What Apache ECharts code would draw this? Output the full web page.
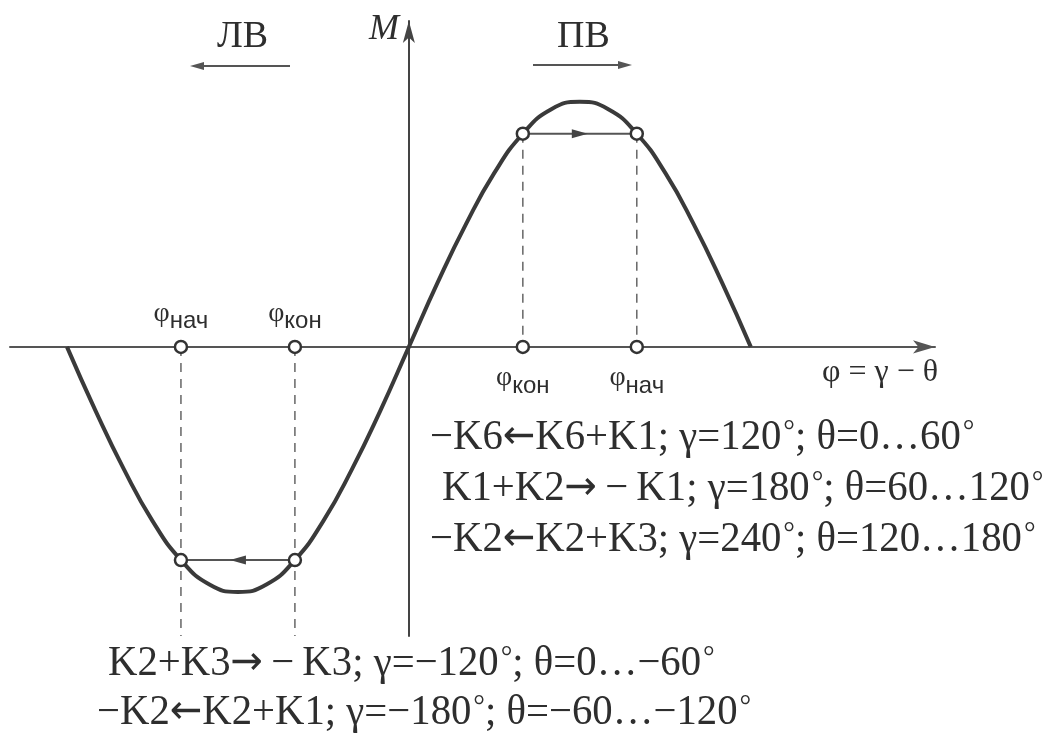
<!DOCTYPE html>
<html>
<head>
<meta charset="utf-8">
<script src="https://cdn.jsdelivr.net/npm/echarts@6/dist/echarts.min.js"></script>
<style>
  html, body { margin: 0; padding: 0; background: #fff; }
  #chart { width: 1049px; height: 735px; }
</style>
</head>
<body>
<div id="chart"></div>
<script>
// Load angle φ (degrees) and electromagnetic torque M (relative units)
const phiDeg = [-180, -165, -150, -135, -120, -105, -90, -75, -60, -45, -30, -15, 0,
                15, 30, 45, 60, 75, 90, 105, 120, 135, 150, 165, 180];
const torque = [0, -0.26, -0.5, -0.71, -0.87, -0.97, -1, -0.97, -0.87, -0.71, -0.5, -0.26, 0,
                0.26, 0.5, 0.71, 0.87, 0.97, 1, 0.97, 0.87, 0.71, 0.5, 0.26, 0];

// Commutation interval boundaries on the curve
const switchPhi = [-120, -60, 60, 120];
const switchM = [-0.87, -0.87, 0.87, 0.87];
const switchSub = ['нач', 'кон', 'кон', 'нач'];

// Working point travel along each interval (start → end)
const travelStart = [[-60, -0.87], [60, 0.87]];
const travelEnd = [[-120, -0.87], [120, 0.87]];

// Lower end of the guide lines under the negative half-wave
const guideBottom = -1.18;

// Axis extents
const phiMin = -210, phiMax = 277;
const mMin = -1.18, mMax = 1.33;

// Switching sequences (thin spaces around the stand-alone minus)
const rightNotes = [
  '−K6←K6+K1; γ=120°; θ=0…60°',
  'K1+K2→\u2009−\u2009K1; γ=180°; θ=60…120°',
  '−K2←K2+K3; γ=240°; θ=120…180°'
];
const bottomNotes = [
  'K2+K3→\u2009−\u2009K3; γ=−120°; θ=0…−60°',
  '−K2←K2+K1; γ=−180°; θ=−60…−120°'
];
const dirLabels = ['ЛВ', 'ПВ'];
const axisNameM = 'M';
const axisNamePhi = 'φ = γ − θ';

const INK = '#2e2e2e';
const SERIF = '"Liberation Serif", "DejaVu Serif", serif';
const SANS = '"Liberation Sans", "DejaVu Sans", sans-serif';

const curveData = phiDeg.map((p, i) => [p, torque[i]]);
const pointData = switchPhi.map((p, i) => [p, switchM[i]]);
const axisPointData = switchPhi.map((p, i) => ({
  value: [p, 0],
  label: {
    position: p < 0 ? 'top' : 'bottom',
    distance: p < 0 ? 6 : 10,
    formatter: '{p|φ}{s|' + switchSub[i] + '}'
  }
}));
const guideData = switchPhi.map((p, i) => p < 0 ? [p, 0, guideBottom] : [p, switchM[i], 0]);
const travelData = travelStart.map((s, i) => [s[0], s[1], travelEnd[i][0], travelEnd[i][1]]);

const chart = echarts.init(document.getElementById('chart'), null, { renderer: 'canvas' });

// arrows in DejaVu Sans (long shafts), degree signs raised to the cap line
function richNote(t) {
  return t.replace(/([←→])/g, '{ar|$1}').replace(/°/g, '{dg|°}');
}
const noteRich = {
  ar: { fontFamily: '"DejaVu Sans", sans-serif', fontSize: 40, fill: INK },
  dg: { fontFamily: SERIF, fontSize: 30, fill: INK, verticalAlign: 'top', padding: [0, 0, 0, 2] }
};

function noteText(lines, xs, ys) {
  return lines.map((t, i) => ({
    type: 'text',
    x: xs[i],
    y: ys[i],
    scaleX: 0.97,
    style: {
      text: richNote(t), x: 0, y: 0,
      font: '42px ' + SERIF, fill: INK,
      align: 'left', verticalAlign: 'middle',
      rich: noteRich
    }
  }));
}

function dirArrow(x1, x2, y) {
  const dir = Math.sign(x2 - x1);
  return [
    { type: 'line', shape: { x1: x1, y1: y, x2: x2 - dir * 10, y2: y },
      style: { stroke: '#555', lineWidth: 2 } },
    { type: 'polygon', shape: { points: [[x2, y], [x2 - dir * 14, y - 4], [x2 - dir * 14, y + 4]] },
      style: { fill: '#555' } }
  ];
}

const option = {
  animation: false,
  backgroundColor: '#fff',
  grid: { left: 10, top: 21, width: 925, height: 615, containLabel: false },
  xAxis: {
    type: 'value', min: phiMin, max: phiMax,
    axisLine: { show: true, onZero: true, symbol: ['none', 'arrow'], symbolSize: [10, 22],
      lineStyle: { color: '#555', width: 2 } },
    axisTick: { show: false }, axisLabel: { show: false }, splitLine: { show: false }
  },
  yAxis: {
    type: 'value', min: mMin, max: mMax,
    axisLine: { show: true, onZero: true, symbol: ['none', 'arrow'], symbolSize: [9, 22],
      lineStyle: { color: '#444', width: 2 } },
    axisTick: { show: false }, axisLabel: { show: false }, splitLine: { show: false }
  },
  series: [
    {
      // dashed projections of the switching points
      type: 'custom',
      data: guideData,
      z: 1,
      renderItem: function (params, api) {
        const a = api.coord([api.value(0), api.value(1)]);
        const b = api.coord([api.value(0), api.value(2)]);
        return { type: 'line', shape: { x1: a[0], y1: a[1], x2: b[0], y2: b[1] },
          style: { stroke: '#666', lineWidth: 1.5, lineDash: [9, 7] } };
      }
    },
    {
      // torque–angle characteristic
      type: 'line',
      data: curveData,
      smooth: true,
      symbol: 'none',
      z: 3,
      lineStyle: { color: '#3a3a3a', width: 4 }
    },
    {
      // working point travel within the interval
      type: 'custom',
      data: travelData,
      z: 4,
      renderItem: function (params, api) {
        const a = api.coord([api.value(0), api.value(1)]);
        const b = api.coord([api.value(2), api.value(3)]);
        const dx = b[0] - a[0], dy = b[1] - a[1];
        const len = Math.hypot(dx, dy);
        const ux = dx / len, uy = dy / len;
        const mx = (a[0] + b[0]) / 2 + ux * 8, my = (a[1] + b[1]) / 2 + uy * 8;
        return {
          type: 'group',
          children: [
            { type: 'line', shape: { x1: a[0], y1: a[1], x2: b[0], y2: b[1] },
              style: { stroke: '#555', lineWidth: 2 } },
            { type: 'polygon', shape: { points: [
                [mx, my],
                [mx - ux * 16 - uy * 4.5, my - uy * 16 + ux * 4.5],
                [mx - ux * 16 + uy * 4.5, my - uy * 16 - ux * 4.5]] },
              style: { fill: '#444' } }
          ]
        };
      }
    },
    {
      // switching points on the curve
      type: 'scatter',
      data: pointData,
      symbol: 'circle',
      symbolSize: 12,
      z: 5,
      itemStyle: { color: '#fff', borderColor: '#333', borderWidth: 2.5, opacity: 1 }
    },
    {
      // their projections on the angle axis
      type: 'scatter',
      data: axisPointData,
      symbol: 'circle',
      symbolSize: 12,
      z: 5,
      itemStyle: { color: '#fff', borderColor: '#333', borderWidth: 2.5, opacity: 1 },
      label: {
        show: true,
        rich: {
          p: { fontFamily: SERIF, fontSize: 28, color: INK, verticalAlign: 'top' },
          s: { fontFamily: SANS, fontSize: 24, color: INK, verticalAlign: 'bottom', padding: [10, 0, 0, 0] }
        }
      }
    }
  ],
  graphic: [
    { type: 'text', left: 369, top: 12,
      style: { text: axisNameM, font: 'italic 36px ' + SERIF, fill: INK } },
    { type: 'text', left: 822, top: 357,
      style: { text: axisNamePhi, font: '32px ' + SERIF, fill: INK } },
    { type: 'text', left: 217, top: 18,
      style: { text: dirLabels[0], font: '38px ' + SERIF, fill: INK } },
    { type: 'text', left: 557, top: 18,
      style: { text: dirLabels[1], font: '38px ' + SERIF, fill: INK } },
    ...dirArrow(290, 190, 66),
    ...dirArrow(533, 632, 65),
    ...noteText(rightNotes, [430, 442, 430], [438, 489, 540]),
    ...noteText(bottomNotes, [108, 97], [664, 713])
  ]
};

chart.setOption(option);
</script>
</body>
</html>
